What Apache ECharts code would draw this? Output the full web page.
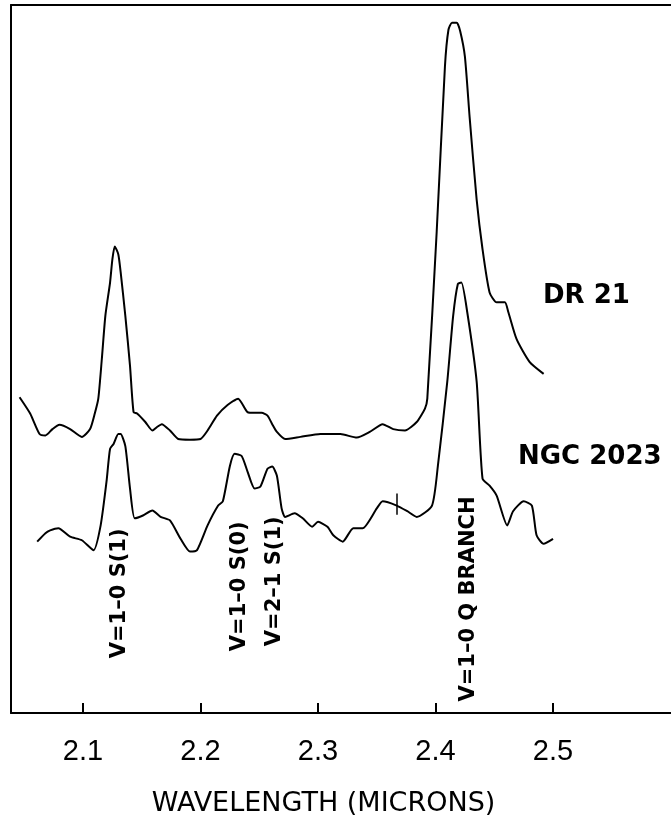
<!DOCTYPE html>
<html>
<head>
<meta charset="utf-8">
<script src="https://cdn.jsdelivr.net/npm/echarts@6/dist/echarts.min.js"></script>
<style>
  html, body { margin: 0; padding: 0; background: #fff; }
  #chart { width: 671px; height: 822px; }
</style>
</head>
<body>
<div id="chart"></div>
<script>
// wavelength (microns) / relative intensity
const drWave = [2.046, 2.055, 2.063, 2.068, 2.074, 2.080, 2.089, 2.099, 2.106, 2.110, 2.113, 2.116, 2.119,
  2.123, 2.125, 2.127, 2.130, 2.132, 2.136, 2.140, 2.143, 2.146, 2.153, 2.159, 2.163, 2.167, 2.174, 2.181,
  2.191, 2.200, 2.206, 2.214, 2.223, 2.232, 2.240, 2.246, 2.252, 2.257, 2.261, 2.265, 2.272, 2.285, 2.302,
  2.319, 2.333, 2.344, 2.355, 2.364, 2.374, 2.384, 2.391, 2.393, 2.401, 2.408, 2.411, 2.414, 2.418, 2.421,
  2.425, 2.429, 2.435, 2.440, 2.446, 2.452, 2.459, 2.462, 2.469, 2.480, 2.492]
const drFlux = [44.6, 42.3, 39.4, 39.2, 40.1, 40.7, 40.1, 39.0, 40.1, 42.3, 44.4, 50.0, 56.1,
  60.8, 64.1, 65.9, 64.8, 62.3, 56.1, 49.0, 42.5, 42.3, 41.1, 39.9, 40.4, 40.8, 39.9, 38.7,
  38.6, 38.7, 39.9, 42.0, 43.5, 44.4, 42.5, 42.4, 42.4, 42.0, 40.8, 39.7, 38.7, 39.0, 39.4,
  39.4, 38.9, 39.7, 40.8, 40.1, 39.9, 41.1, 43.0, 44.4, 68.0, 91.3, 96.5, 97.5, 97.5, 96.3,
  92.7, 84.2, 72.5, 65.5, 59.4, 58.0, 58.0, 56.6, 52.8, 49.6, 47.9]

const ngcWave = [2.061, 2.068, 2.072, 2.079, 2.089, 2.099, 2.109, 2.115, 2.120, 2.123, 2.126, 2.130, 2.132,
  2.136, 2.140, 2.144, 2.151, 2.159, 2.166, 2.174, 2.183, 2.191, 2.197, 2.206, 2.215, 2.219, 2.225, 2.229,
  2.235, 2.240, 2.246, 2.251, 2.257, 2.261, 2.265, 2.269, 2.272, 2.280, 2.287, 2.295, 2.300, 2.308, 2.313,
  2.321, 2.330, 2.338, 2.350, 2.355, 2.367, 2.376, 2.384, 2.397, 2.402, 2.410, 2.415, 2.419, 2.422, 2.427,
  2.435, 2.440, 2.446, 2.452, 2.461, 2.466, 2.475, 2.482, 2.486, 2.492, 2.500]
const ngcFlux = [24.2, 25.4, 25.8, 26.1, 24.9, 24.4, 23.0, 26.5, 32.7, 37.3, 38.0, 39.4, 39.4,
  37.7, 31.7, 27.5, 27.9, 28.6, 27.7, 27.2, 24.6, 22.8, 23.0, 26.5, 29.3, 29.9, 34.9, 36.6,
  36.3, 34.1, 31.7, 32.0, 34.5, 34.8, 33.5, 28.9, 27.7, 28.2, 27.5, 26.3, 27.0, 26.3, 25.1,
  24.2, 26.1, 26.1, 28.9, 29.9, 29.3, 28.5, 27.7, 29.3, 34.9, 46.8, 56.1, 60.6, 60.8, 56.6,
  46.8, 33.1, 32.1, 30.7, 26.5, 28.5, 29.9, 29.3, 25.1, 23.9, 24.6]

// small vertical mark on the NGC 2023 trace
const ngcMarkWave = 2.367
const ngcMarkRange = [28.0, 31.0]

// line identifications
const lineNames = ['V=1\u20130 S(1)', 'V=1\u20130 S(0)', 'V=2\u20131 S(1)', 'V=1\u20130 Q BRANCH']
const lineWave = [2.1315, 2.2336, 2.2634, 2.4277]
const lineLabelY = [16.9, 17.9, 18.6, 16.1]

const xTicks = [2.1, 2.2, 2.3, 2.4, 2.5]

const zip = (xs, ys) => xs.map((x, i) => [x, ys[i]])

const chart = echarts.init(document.getElementById('chart'))

const ink = '#000'

chart.setOption({
  animation: false,
  grid: { left: 11, right: 0, top: 5, bottom: 107 },
  xAxis: [
    {
      type: 'value',
      min: 2.0387,
      max: 2.6004,
      axisLine: { show: true, lineStyle: { color: ink, width: 2 } },
      axisTick: { show: true, inside: true, length: 10, lineStyle: { color: ink, width: 2 }, customValues: xTicks },
      axisLabel: {
        customValues: xTicks,
        formatter: v => v.toFixed(1),
        color: ink,
        fontFamily: 'Liberation Sans',
        fontSize: 29,
        margin: 24,
      },
      splitLine: { show: false },
      name: 'WAVELENGTH (MICRONS)',
      nameLocation: 'middle',
      nameGap: 77,
      nameTextStyle: {
        color: ink,
        fontFamily: 'DejaVu Sans',
        fontSize: 27,
        padding: [0, 35, 0, 0],
      },
    },
    {
      type: 'value',
      position: 'top',
      min: 2.0387,
      max: 2.6004,
      axisLine: { show: true, lineStyle: { color: ink, width: 2 } },
      axisTick: { show: false },
      axisLabel: { show: false },
      splitLine: { show: false },
    },
  ],
  yAxis: {
    type: 'value',
    min: 0,
    max: 100,
    axisLine: { show: true, lineStyle: { color: ink, width: 2 } },
    axisTick: { show: false },
    axisLabel: { show: false },
    splitLine: { show: false },
  },
  graphic: [
    {
      type: 'text',
      left: 543,
      top: 283,
      style: { text: 'DR 21', fill: ink, font: 'bold 26px "DejaVu Sans"' },
    },
    {
      type: 'text',
      left: 518,
      top: 444,
      style: { text: 'NGC 2023', fill: ink, font: 'bold 26px "DejaVu Sans"' },
    },
  ],
  series: [
    {
      name: 'DR 21',
      type: 'line',
      data: zip(drWave, drFlux),
      showSymbol: false,
      smooth: 0.2,
      lineStyle: { color: ink, width: 2 },
    },
    {
      name: 'NGC 2023',
      type: 'line',
      data: zip(ngcWave, ngcFlux),
      showSymbol: false,
      smooth: 0.2,
      lineStyle: { color: ink, width: 2 },
      markLine: {
        silent: true,
        symbol: 'none',
        label: { show: false },
        lineStyle: { color: ink, width: 1.5, type: 'solid' },
        data: [[{ coord: [ngcMarkWave, ngcMarkRange[0]] }, { coord: [ngcMarkWave, ngcMarkRange[1]] }]],
      },
    },
    {
      name: 'lines',
      type: 'scatter',
      data: lineWave.map((w, i) => ({ value: [w, lineLabelY[i]], name: lineNames[i] })),
      symbolSize: 1,
      itemStyle: { color: 'rgba(0,0,0,0)', opacity: 1 },
      label: {
        show: true,
        position: 'inside',
        rotate: 90,
        formatter: p => p.name,
        color: ink,
        fontFamily: 'DejaVu Sans',
        fontWeight: 'bold',
        fontSize: 21,
      },
    },
  ],
})
</script>
</body>
</html>
